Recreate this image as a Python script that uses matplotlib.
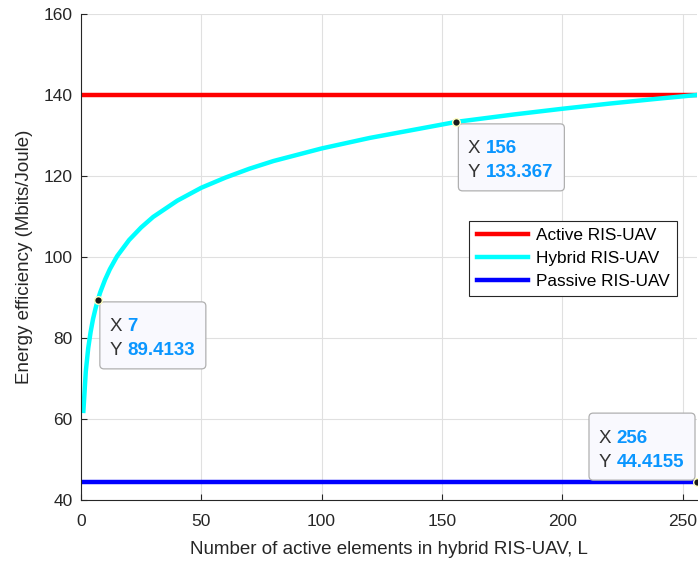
import matplotlib
matplotlib.use("Agg")
import matplotlib.pyplot as plt
from matplotlib.offsetbox import DrawingArea, AnnotationBbox
from matplotlib.patches import FancyBboxPatch

plt.rcParams['font.family'] = ['Liberation Sans', 'DejaVu Sans']

# ---- data ----
L_vals = [1, 2, 3, 4, 5, 6, 7, 8, 10, 12, 15, 20, 25, 30, 40, 50, 60, 70, 80,
          100, 120, 140, 156, 180, 200, 220, 240, 256]
hybrid_ee = [62.0, 71.8, 77.5, 81.5, 84.7, 87.2, 89.4133, 91.3, 94.4, 97.0,
             100.2, 104.2, 107.3, 109.9, 113.9, 117.1, 119.6, 121.8, 123.7,
             126.8, 129.4, 131.6, 133.367, 135.2, 136.6, 137.9, 139.1, 140.0]
L_const = [0, 256]
active_ee = [140.0, 140.0]
passive_ee = [44.4155, 44.4155]

tips = [(7, 89.4133, "7", "89.4133"),
        (156, 133.367, "156", "133.367"),
        (256, 44.4155, "256", "44.4155")]

DPI = 100
PX = 72.0 / DPI  # points per pixel

fig = plt.figure(figsize=(6.98, 5.62), dpi=DPI)
ax = fig.add_axes([81/698, 62/562, 616/698, 486/562])

ax.plot(L_const, active_ee, color='#ff0000', lw=3.2, label='Active RIS-UAV')
ax.plot(L_vals, hybrid_ee, color='#00ffff', lw=3.2, label='Hybrid RIS-UAV')
ax.plot(L_const, passive_ee, color='#0000ff', lw=3.2, label='Passive RIS-UAV')

ax.set_xlim(0, 256)
ax.set_ylim(40, 160)
ax.set_xticks([0, 50, 100, 150, 200, 250])
ax.set_yticks([40, 60, 80, 100, 120, 140, 160])
ax.grid(True, color='#e0e0e0', lw=0.8)
ax.set_axisbelow(True)
for s in ['top', 'right']:
    ax.spines[s].set_visible(False)
for s in ['left', 'bottom']:
    ax.spines[s].set_color('#262626')
    ax.spines[s].set_linewidth(0.8)
ax.tick_params(direction='in', length=4.5, width=0.8, colors='#262626',
               labelsize=12.5)
ax.tick_params(axis='x', pad=10)
ax.tick_params(axis='y', pad=6)
ax.set_xlabel('Number of active elements in hybrid RIS-UAV, L', fontsize=13.5,
              color='#262626', labelpad=9)
ax.set_ylabel('Energy efficiency (Mbits/Joule)', fontsize=13.5,
              color='#262626', labelpad=8)

leg = ax.legend(loc='upper right', bbox_to_anchor=(0.9675, 0.574),
                borderaxespad=0, fontsize=12.4, handlelength=3.0,
                fancybox=False, framealpha=1, edgecolor='#262626',
                labelspacing=0.45, borderpad=0.42, handletextpad=0.45)
leg.get_frame().set_linewidth(0.8)
leg.set_zorder(5)

# data tips
FW, FH = 106, 67  # frame size in px
for i, (x, y, xs, ys) in enumerate(tips):
    ax.plot([x], [y], 'o', ms=5.5, mfc='#1a1a1a', mec='#ffffc0', mew=1,
            zorder=8, clip_on=False)
    if i < 2:
        fx, fy = 2, -2          # frame top-left relative to point (px, up positive)
    else:
        fx, fy = -108, 69
    da = DrawingArea(FW * PX, FH * PX, 0, 0)
    da.add_artist(FancyBboxPatch((0, 0), FW * PX, FH * PX,
                                 boxstyle='round,pad=0,rounding_size=3',
                                 fc='#f9f9fe', ec='#b0b0b0', lw=0.9))
    ab = AnnotationBbox(da, (x, y), xybox=(fx * PX, fy * PX),
                        boxcoords='offset points', box_alignment=(0, 1),
                        frameon=False, pad=0, annotation_clip=False, zorder=6)
    ax.add_artist(ab)
    for lbl, val, base in (('X', xs, 29.5), ('Y', ys, 53.5)):
        t = ax.annotate(lbl + ' ', (x, y), xytext=((fx + 10) * PX, (fy - base) * PX),
                        textcoords='offset points', ha='left', va='baseline',
                        fontsize=13.5, color='#333333', zorder=7,
                        annotation_clip=False)
        ax.annotate(val, xy=(1, 0), xycoords=t, xytext=(0, 0),
                    textcoords='offset points', ha='left', va='bottom',
                    fontsize=13.5, color='#0a96ff', fontweight='bold',
                    zorder=7, annotation_clip=False)

fig.savefig('out.png', dpi=DPI)
